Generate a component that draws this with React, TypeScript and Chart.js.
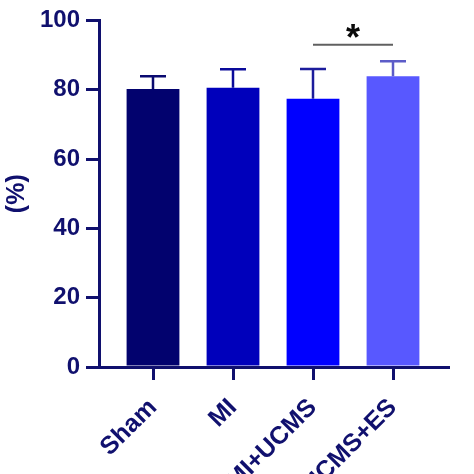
import React, { useEffect, useRef } from "react";
import { Chart, registerables } from "chart.js";

Chart.register(...registerables);

const categories = ["Sham", "MI", "MI+UCMS", "MI+UCMS+ES"];
const means = [80.2, 80.6, 77.4, 83.9];
const errUpper = [3.7, 5.3, 8.6, 4.3];
const barColors = ["#02026e", "#0000bb", "#0000ff", "#5858ff"];
const errColors = ["#0a0a70", "#0a0a9a", "#1c1c9c", "#5c5cc8"];
const yTicks = [0, 20, 40, 60, 80, 100];
const sigPair = [2, 3];
const sigLevel = 93;
const sigLabel = "*";
const yTitle = "(%)";

const NAVY = "#10106e";
const FONT = 'Arial, "Liberation Sans", sans-serif';

export default function App() {
  const ref = useRef<HTMLCanvasElement | null>(null);

  useEffect(() => {
    if (!ref.current) return;
    const errorBars = {
      id: "errorBars",
      afterDatasetsDraw(chart: any) {
        const xs = chart.scales.x;
        const ys = chart.scales.y;
        const ctx = chart.ctx;
        ctx.save();
        ctx.lineWidth = 2.5;
        means.forEach((m, i) => {
          const x = xs.getPixelForValue(i);
          const yb = ys.getPixelForValue(m);
          const yt = ys.getPixelForValue(m + errUpper[i]);
          ctx.strokeStyle = errColors[i];
          ctx.beginPath();
          ctx.moveTo(x, yb);
          ctx.lineTo(x, yt);
          ctx.moveTo(x - 13, yt);
          ctx.lineTo(x + 13, yt);
          ctx.stroke();
        });
        // significance
        const x1 = xs.getPixelForValue(sigPair[0]);
        const x2 = xs.getPixelForValue(sigPair[1]);
        const y = ys.getPixelForValue(sigLevel);
        ctx.strokeStyle = "#606060";
        ctx.lineWidth = 2;
        ctx.beginPath();
        ctx.moveTo(x1, y);
        ctx.lineTo(x2, y);
        ctx.stroke();
        ctx.fillStyle = "#0a0a0a";
        ctx.font = `bold 36px ${FONT}`;
        ctx.textAlign = "center";
        ctx.textBaseline = "alphabetic";
        ctx.fillText(sigLabel, (x1 + x2) / 2, y + 5);
        ctx.restore();
      },
    };

    const chart = new Chart(ref.current, {
      type: "bar",
      data: {
        datasets: [
          {
            data: means.map((m, i) => ({ x: i, y: m })),
            backgroundColor: barColors,
            borderWidth: 0,
            barPercentage: 0.66,
            categoryPercentage: 1,
          },
        ],
      },
      options: {
        responsive: false,
        animation: false,
        devicePixelRatio: 1,
        layout: { padding: { top: 20, right: 26, left: 0, bottom: 0 } },
        plugins: { legend: { display: false }, tooltip: { enabled: false } },
        scales: {
          x: {
            type: "linear",
            offset: false,
            min: -0.675,
            max: 3.6875,
            afterBuildTicks: (axis: any) => {
              axis.ticks = categories.map((_, i) => ({ value: i }));
            },
            afterFit: (axis: any) => {
              axis.height = 474 - 367;
            },
            border: { display: true, color: NAVY, width: 3 },
            grid: {
              offset: false,
              drawOnChartArea: false,
              drawTicks: true,
              tickLength: 13,
              color: NAVY,
              lineWidth: 3,
            },
            ticks: {
              autoSkip: false,
              minRotation: 45,
              maxRotation: 45,
              padding: 13,
              color: NAVY,
              font: { family: FONT, size: 25, weight: "bold" },
              callback: (v: any) => categories[v as number] ?? "",
            },
          },
          y: {
            min: 0,
            max: 100,
            afterBuildTicks: (axis: any) => {
              axis.ticks = yTicks.map((v) => ({ value: v }));
            },
            afterFit: (axis: any) => {
              axis.width = 99;
            },
            border: { display: true, color: NAVY, width: 3 },
            grid: {
              drawOnChartArea: false,
              drawTicks: true,
              tickLength: 13,
              color: NAVY,
              lineWidth: 3,
            },
            ticks: {
              padding: 6,
              color: NAVY,
              font: { family: FONT, size: 24, weight: "bold" },
            },
            title: {
              display: true,
              text: yTitle,
              color: NAVY,
              padding: 2,
              font: { family: FONT, size: 25, weight: "bold" },
            },
          },
        },
      },
      plugins: [errorBars],
    } as any);
    return () => chart.destroy();
  }, []);

  return (
    <div style={{ position: "fixed", left: 0, top: 0, width: 474, height: 474, background: "#fff" }}>
      <canvas ref={ref} width={474} height={474} />
    </div>
  );
}
